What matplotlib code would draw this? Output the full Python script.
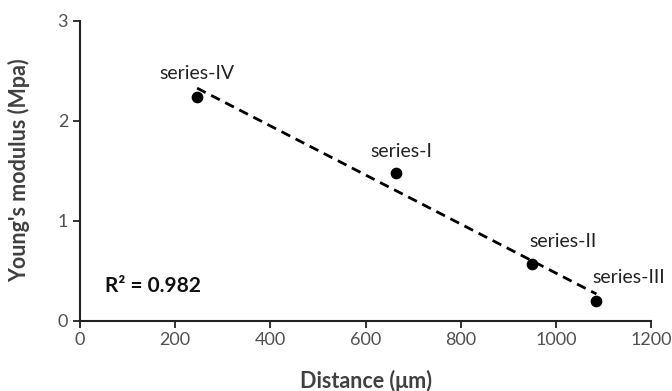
import matplotlib.pyplot as plt
import numpy as np

plt.rcParams["font.family"] = ["Lato", "DejaVu Sans"]

# data
distance = [246, 664, 950, 1085]
modulus = [2.24, 1.48, 0.57, 0.20]
names = ["series-IV", "series-I", "series-II", "series-III"]
offsets = [(0, 17), (4, 15), (22, 16), (23, 16.5)]  # label offsets in points
r2_text = "R² = 0.982"

fig = plt.figure(figsize=(6.72, 3.91), dpi=100)
axe = fig.add_axes([0.119, 0.18, 0.85, 0.767])

axe.scatter(distance, modulus, s=55, color="black", zorder=3)

# linear trend line over the data range
k, b = np.polyfit(distance, modulus, 1)
xs = np.array([min(distance), max(distance)])
axe.plot(xs, k * xs + b, color="black", lw=2, ls=(0, (3.5, 2.2)))

for n, x, y, off in zip(names, distance, modulus, offsets):
    axe.annotate(n, (x, y), xytext=off, textcoords="offset points",
                 ha="center", va="center", fontsize=14, color="#222222")

axe.text(52, 0.35, r2_text, fontsize=15, fontweight="bold", va="center",
         color="#111111")

axe.set_xlim(0, 1200)
axe.set_ylim(0, 3)
axe.set_xticks(np.arange(0, 1201, 200))
axe.set_yticks([0, 1, 2, 3])
axe.set_xlabel("Distance (μm)", fontsize=15.5, fontweight="bold", color="#404040")
axe.set_ylabel("Young's modulus (Mpa)", fontsize=15.5, fontweight="bold", color="#404040")
axe.xaxis.set_label_coords(0.5, -0.164)
axe.yaxis.set_label_coords(-0.088, 0.5)

for s in ["top", "right"]:
    axe.spines[s].set_visible(False)
for s in ["left", "bottom"]:
    axe.spines[s].set_linewidth(1.5)
    axe.spines[s].set_color("#222222")
axe.tick_params(length=5, width=1.3, labelsize=13, labelcolor="#505050", color="#222222")

fig.savefig("out.png", dpi=100)
